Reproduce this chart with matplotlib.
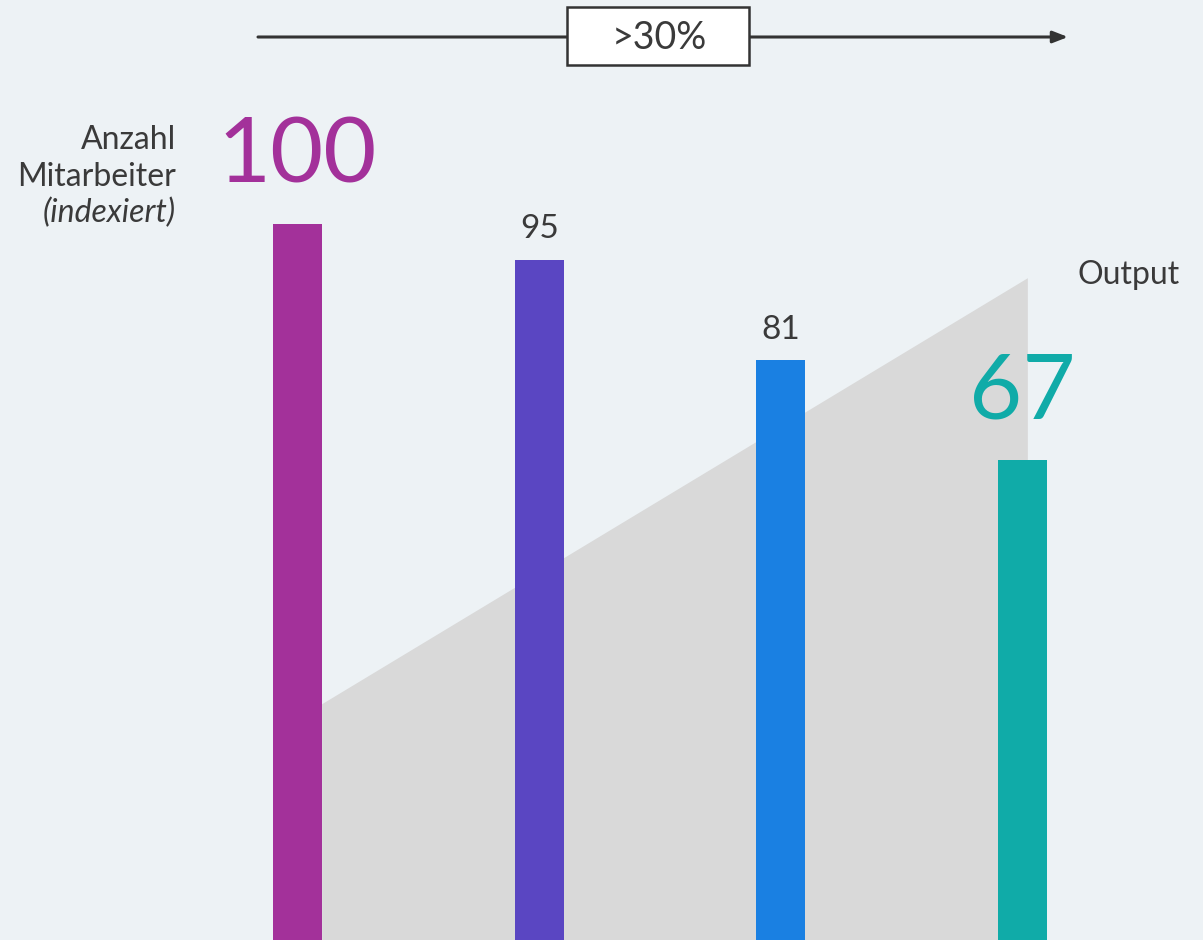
import matplotlib.pyplot as plt
from matplotlib.patches import Rectangle

# data
positions = [0, 1, 2, 3]
values = [100, 95, 81, 67]
colors = ['#A3319A', '#5A46C2', '#1A80E2', '#10ABA8']
big_label = [True, False, False, True]
output_x = [0.1, 3.02]
output_vals = [33, 92.5]

bg = '#EDF2F5'
txt = '#3A3A3A'
plt.rcParams['font.family'] = ['Lato', 'DejaVu Sans']

W, H = 1203, 940
fig = plt.figure(figsize=(W / 100, H / 100), dpi=100, facecolor=bg)
ax = fig.add_axes([0, 0, 1, 1])
ax.set_facecolor(bg)

step = 241.7
ax.set_xlim(-297.5 / step, 3 + (W - 1022.5) / step)
ax.set_ylim(0, H / 7.16)
ax.axis('off')

# gray output wedge behind the bars
ax.fill_between(output_x, 0, output_vals, color='#D9D9D9', lw=0, zorder=1)

ax.bar(positions, values, width=49 / step, color=colors, zorder=2)

for x, v, c, big in zip(positions, values, colors, big_label):
    if big:
        ax.annotate(str(v), (x, v), xytext=(0, 30), textcoords='offset points',
                    ha='center', va='baseline', fontsize=66, color=c, zorder=3)
    else:
        ax.annotate(str(v), (x, v), xytext=(0, 15.5), textcoords='offset points',
                    ha='center', va='baseline', fontsize=24, color=txt, zorder=3)

# axis caption left
fig.text(176 / W, 1 - 140 / H, 'Anzahl', ha='right', va='center', fontsize=23,
         color=txt)
fig.text(176 / W, 1 - 177 / H, 'Mitarbeiter', ha='right', va='center', fontsize=23,
         color=txt)
fig.text(176 / W, 1 - 213 / H, '(indexiert)', ha='right', va='center', fontsize=23,
         color=txt, style='italic')

fig.text(1180 / W, 1 - 275 / H, 'Output', ha='right', va='center', fontsize=23,
         color=txt)

# top arrow with box
ax.annotate('', xy=(1068 / W, 1 - 37 / H), xytext=(258 / W, 1 - 37 / H),
            xycoords='figure fraction', textcoords='figure fraction',
            arrowprops=dict(arrowstyle='-|>,head_length=0.9,head_width=0.35',
                            color='#333333', lw=2.2, shrinkA=0, shrinkB=0))
fig.patches.append(Rectangle((567 / W, 1 - 65 / H), 182 / W, 58 / H,
                             transform=fig.transFigure, facecolor='white',
                             edgecolor='#333333', lw=1.8, zorder=5))
fig.text(659 / W, 1 - 38 / H, '>30%', ha='center', va='center', fontsize=27,
         color=txt, zorder=6)

fig.savefig('out.png', dpi=100, facecolor=bg)
